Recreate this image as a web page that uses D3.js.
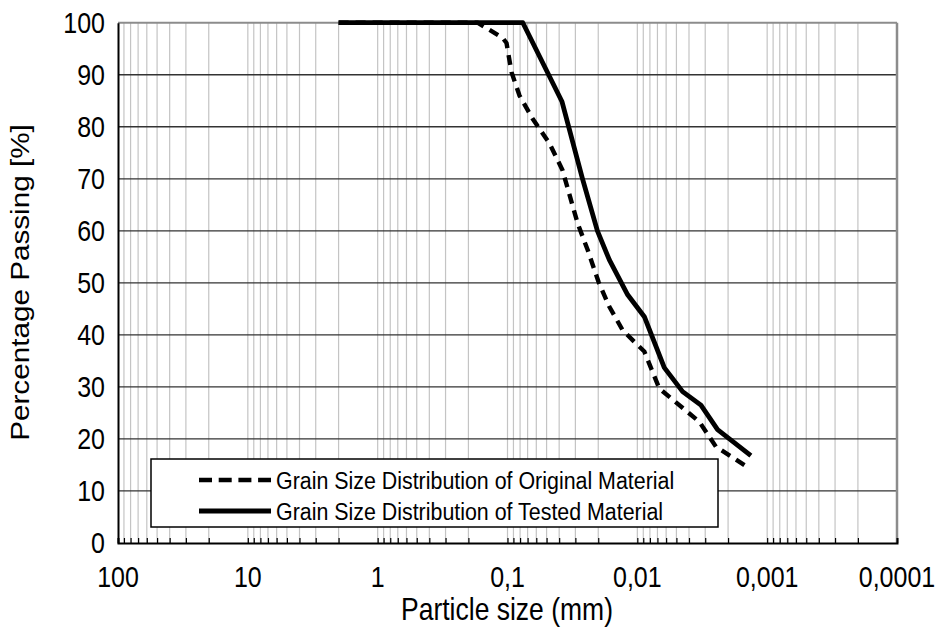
<!DOCTYPE html>
<html><head><meta charset="utf-8">
<script src="https://cdn.jsdelivr.net/npm/d3@7/dist/d3.min.js"></script>
<style>body{margin:0;background:#fff}svg{font-family:"Liberation Sans",Arial,sans-serif}</style>
</head><body><svg id="c" width="937" height="630"></svg>
<script>
// Data (particle size in mm, percentage passing)
const originalSize = [2, 0.170, 0.1092, 0.1018, 0.09315, 0.08084, 0.06422, 0.0475, 0.03775, 0.02879, 0.02411, 0.01985, 0.01642, 0.01297, 0.01087, 0.00883, 0.00677, 0.00333, 0.00248, 0.001376];
const originalPass = [100, 100, 97.1, 96.1, 90.5, 86.0, 81.6, 76.8, 71.7, 61.4, 56.3, 50.1, 45.4, 40.9, 39.0, 36.8, 29.7, 23.3, 18.5, 14.4];
const testedSize = [2, 0.0762, 0.0380, 0.0265, 0.0203, 0.01642, 0.01187, 0.00883, 0.0062, 0.00448, 0.003236, 0.00241, 0.001335];
const testedPass = [100, 100, 84.8, 70.1, 60.0, 54.4, 47.7, 43.5, 33.7, 29.1, 26.5, 21.8, 16.8];
const xTickValues = [100, 10, 1, 0.1, 0.01, 0.001, 0.0001];
const xTickLabels = ["100", "10", "1", "0,1", "0,01", "0,001", "0,0001"];
const yTickValues = [0, 10, 20, 30, 40, 50, 60, 70, 80, 90, 100];
const seriesNames = ["Grain Size Distribution of Original Material", "Grain Size Distribution of Tested Material"];

const svg = d3.select("#c");
const L = 118, R = 897, T = 22.7, B = 543;
const SY = 1.15; // vertical text stretch seen in the reference
const x = d3.scaleLog().domain([100, 0.0001]).range([L, R]);
const y = d3.scaleLinear().domain([0, 100]).range([B, T]);

// minor positions
const minor = [];
for (let e = -4; e < 2; e++) {
  for (let m = 1; m <= 9; m++) minor.push(m * Math.pow(10, e));
}
minor.push(100);
const minorVals = minor.filter(v => v <= 100 && v >= 0.0001);

// vertical grid
svg.append("g").selectAll("line").data(minorVals.filter(v => v < 100 && v > 0.0001)).join("line")
  .attr("x1", d => x(d)).attr("x2", d => x(d)).attr("y1", T).attr("y2", B)
  .attr("stroke", "#c4c4c4").attr("stroke-width", 1.2);

// horizontal grid
svg.append("g").selectAll("line").data(yTickValues.filter(v => v > 0 && v < 100)).join("line")
  .attr("x1", L).attr("x2", R).attr("y1", d => y(d)).attr("y2", d => y(d))
  .attr("stroke", "#333").attr("stroke-width", 1.3);

// frame: top & right gray
svg.append("line").attr("x1", L).attr("x2", R).attr("y1", T).attr("y2", T).attr("stroke", "#8c8c8c").attr("stroke-width", 2);
svg.append("line").attr("x1", R).attr("x2", R).attr("y1", T).attr("y2", B).attr("stroke", "#8c8c8c").attr("stroke-width", 2.5);

// bottom axis
const xAxis = d3.axisBottom(x).tickValues(minorVals).tickSize(-5).tickFormat("");
const gx = svg.append("g").attr("transform", `translate(0,${B})`).call(xAxis);
gx.select(".domain").attr("stroke", "#000").attr("stroke-width", 2);
gx.selectAll(".tick line").attr("stroke", "#000").attr("stroke-width", 1.2);
svg.append("g").selectAll("text").data(xTickValues).join("text")
  .attr("transform", d => `translate(${x(d)},586.5) scale(1,${SY})`)
  .attr("text-anchor", "middle").attr("font-size", 25).attr("fill", "#000")
  .text((d, i) => xTickLabels[i]);

// left axis
const yAxis = d3.axisLeft(y).tickValues(yTickValues).tickSize(0).tickFormat("");
const gy = svg.append("g").attr("transform", `translate(${L},0)`).call(yAxis);
gy.select(".domain").attr("stroke", "#000").attr("stroke-width", 2);
svg.append("g").selectAll("text").data(yTickValues).join("text")
  .attr("transform", d => `translate(${L - 13},${y(d) + 0.36 * 25 * SY}) scale(1,${SY})`)
  .attr("text-anchor", "end").attr("font-size", 25).attr("fill", "#000")
  .text(d => d);

// titles
svg.append("text").attr("transform", `translate(${(L + R) / 2 - 0.5},619.5) scale(1,${SY})`)
  .attr("text-anchor", "middle").attr("font-size", 26.5).text("Particle size (mm)");
svg.append("text").attr("transform", `translate(29,282.5) scale(1,${SY}) rotate(-90)`)
  .attr("text-anchor", "middle").attr("font-size", 25.8).text("Percentage Passing [%]");

// lines
const line = d3.line().x(d => x(d[0])).y(d => y(d[1]));
const orig = originalSize.map((d, i) => [d, originalPass[i]]);
const test = testedSize.map((d, i) => [d, testedPass[i]]);
svg.append("path").datum(test).attr("d", line).attr("fill", "none")
  .attr("stroke", "#000").attr("stroke-width", 4.8).attr("stroke-linejoin", "round");
svg.append("path").datum(orig).attr("d", line).attr("fill", "none")
  .attr("stroke", "#000").attr("stroke-width", 4.4).attr("stroke-dasharray", "10,7")
  .attr("stroke-linejoin", "round");

// legend
const lg = svg.append("g");
lg.append("rect").attr("x", 151).attr("y", 459).attr("width", 567).attr("height", 68)
  .attr("fill", "#fff").attr("stroke", "#000").attr("stroke-width", 1.5);
const rows = [480, 511];
lg.append("line").attr("x1", 199).attr("x2", 271).attr("y1", rows[0]).attr("y2", rows[0])
  .attr("stroke", "#000").attr("stroke-width", 4.4).attr("stroke-dasharray", "13,6.7");
lg.append("line").attr("x1", 199).attr("x2", 271).attr("y1", rows[1]).attr("y2", rows[1])
  .attr("stroke", "#000").attr("stroke-width", 4.8);
lg.selectAll("text").data(seriesNames).join("text")
  .attr("transform", (d, i) => `translate(276,${rows[i] + 0.36 * 21.4 * SY}) scale(1,${SY})`)
  .attr("font-size", 21.4).text(d => d);
</script></body></html>
